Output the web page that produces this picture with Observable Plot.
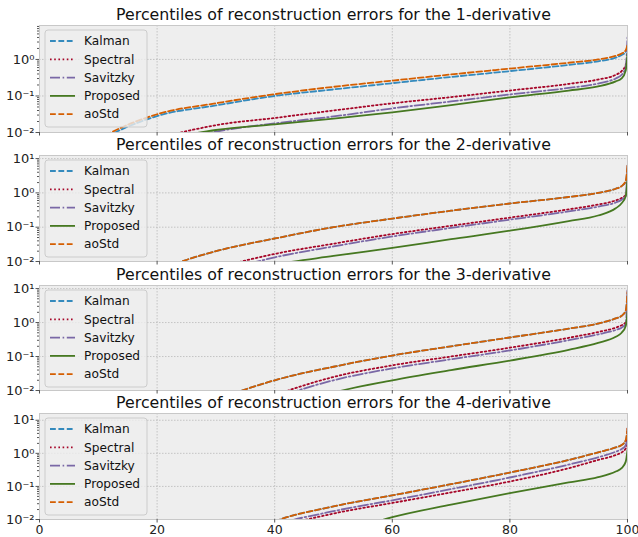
<!DOCTYPE html>
<html><head><meta charset="utf-8">
<script src="https://cdn.jsdelivr.net/npm/d3@7"></script>
<script src="https://cdn.jsdelivr.net/npm/@observablehq/plot@0.6"></script>
<style>
body{margin:0;background:#fff;font-family:"DejaVu Sans",sans-serif;}
#chart svg{display:block;}
</style></head><body><div id="chart"></div>
<script>
const percentiles = [0, 10, 20, 30, 40, 50, 60, 70, 80, 90, 95, 98, 99, 99.7, 100];
const methods = ["Kalman", "Spectral", "Savitzky", "Proposed", "aoStd"];
const titles = [
  "Percentiles of reconstruction errors for the 1-derivative",
  "Percentiles of reconstruction errors for the 2-derivative",
  "Percentiles of reconstruction errors for the 3-derivative",
  "Percentiles of reconstruction errors for the 4-derivative"
];
const xTicks = [0, 20, 40, 60, 80, 100];

// 1-derivative
const kalman1   = [0.00032, 0.0056, 0.0282, 0.055, 0.1, 0.151, 0.224, 0.331, 0.479, 0.708, 0.891, 1.12, 1.32, 1.58, 2.0];
const spectral1 = [0.0001, 0.001, 0.0063, 0.0158, 0.025, 0.04, 0.063, 0.093, 0.141, 0.214, 0.282, 0.38, 0.479, 0.708, 1.12];
const savitzky1 = [0.00003, 0.00063, 0.004, 0.0105, 0.0178, 0.0275, 0.0457, 0.0708, 0.11, 0.166, 0.219, 0.302, 0.38, 0.631, 3.98];
const proposed1 = [0.00003, 0.0005, 0.005, 0.0117, 0.0166, 0.024, 0.0355, 0.0562, 0.091, 0.141, 0.182, 0.251, 0.302, 0.5, 1.41];
const aoStd1    = [0.00032, 0.0063, 0.0316, 0.063, 0.112, 0.178, 0.263, 0.389, 0.562, 0.813, 1.0, 1.26, 1.45, 1.78, 2.51];
// 2-derivative
const kalman2   = [0.0001, 0.001, 0.0056, 0.02, 0.0468, 0.1, 0.178, 0.302, 0.49, 0.759, 1.0, 1.32, 1.58, 2.14, 5.0];
const spectral2 = [0.00001, 0.00016, 0.0016, 0.0063, 0.0166, 0.033, 0.063, 0.11, 0.19, 0.331, 0.457, 0.603, 0.708, 0.891, 1.26];
const savitzky2 = [0.00001, 0.0001, 0.001, 0.0045, 0.0132, 0.0275, 0.0537, 0.0955, 0.166, 0.288, 0.398, 0.525, 0.631, 0.832, 6.31];
const proposed2 = [0.00001, 0.0001, 0.00063, 0.0025, 0.0079, 0.0145, 0.025, 0.0447, 0.079, 0.151, 0.219, 0.355, 0.5, 0.794, 2.51];
const aoStd2    = [0.0001, 0.001, 0.0056, 0.02, 0.0468, 0.1, 0.178, 0.302, 0.49, 0.759, 1.0, 1.32, 1.58, 2.24, 6.31];
// 3-derivative
const kalman3   = [0.00001, 0.000063, 0.00063, 0.005, 0.02, 0.05, 0.107, 0.2, 0.363, 0.661, 0.933, 1.32, 1.58, 2.24, 6.31];
const spectral3 = [0.00001, 0.00003, 0.00025, 0.0013, 0.0072, 0.025, 0.055, 0.1, 0.182, 0.355, 0.525, 0.708, 0.832, 1.0, 1.26];
const savitzky3 = [0.00001, 0.000025, 0.0002, 0.001, 0.0058, 0.02, 0.0447, 0.083, 0.151, 0.302, 0.447, 0.603, 0.708, 0.891, 10];
const proposed3 = [0.000001, 0.00001, 0.00005, 0.00032, 0.0018, 0.0085, 0.02, 0.04, 0.076, 0.158, 0.251, 0.38, 0.5, 0.794, 2.0];
const aoStd3    = [0.00001, 0.000063, 0.00063, 0.005, 0.02, 0.05, 0.107, 0.2, 0.363, 0.661, 0.933, 1.32, 1.58, 2.24, 7.94];
// 4-derivative
const kalman4   = [0.000001, 0.00001, 0.0001, 0.001, 0.0087, 0.025, 0.0537, 0.117, 0.263, 0.631, 1.07, 1.51, 1.78, 2.4, 5.0];
const spectral4 = [0.000001, 0.00001, 0.00005, 0.0005, 0.005, 0.0151, 0.0316, 0.066, 0.141, 0.355, 0.631, 0.891, 1.07, 1.41, 5.62];
const savitzky4 = [0.000001, 0.00001, 0.000063, 0.00063, 0.0063, 0.0178, 0.038, 0.083, 0.186, 0.457, 0.759, 1.12, 1.35, 1.78, 2.51];
const proposed4 = [1e-7, 1e-6, 1e-5, 0.0001, 0.00063, 0.0032, 0.0117, 0.0282, 0.063, 0.132, 0.19, 0.282, 0.355, 0.562, 1.26];
const aoStd4    = [0.000001, 0.00001, 0.0001, 0.001, 0.0087, 0.025, 0.0537, 0.117, 0.263, 0.631, 1.07, 1.51, 1.78, 2.51, 5.62];

const seriesByPanel = [
  [kalman1, spectral1, savitzky1, proposed1, aoStd1],
  [kalman2, spectral2, savitzky2, proposed2, aoStd2],
  [kalman3, spectral3, savitzky3, proposed3, aoStd3],
  [kalman4, spectral4, savitzky4, proposed4, aoStd4]
];
const yMax = [8.5, 12.3, 12.3, 16];

// styles
const colors = ["#348ABD", "#A60628", "#7A68A6", "#467821", "#D55E00"];
const dashes = ["5.8,2.6", "1.6,2.6", "10,2.6,1.6,2.6", null, "5.8,2.6"];
const layout = [
  {height: 135, top: 25, bottom: 3},
  {height: 130, top: 20, bottom: 4},
  {height: 128, top: 20, bottom: 3},
  {height: 144, top: 20, bottom: 18}
];
const ML = 39, MR = 11, W = 638;

const sup = {"-": "\u207B", "0": "\u2070", "1": "\u00B9", "2": "\u00B2", "3": "\u00B3"};
const fmtPow = d => "10" + String(Math.round(Math.log10(d))).split("").map(c => sup[c]).join("");

const chart = document.getElementById("chart");

seriesByPanel.forEach((series, k) => {
  const L = layout[k];
  const data = [];
  methods.forEach((m, j) => series[j].forEach((v, i) => data.push({p: percentiles[i], v, m})));
  const decades = [0.01, 0.1, 1, 10].filter(d => d <= yMax[k]);
  const minor = [];
  for (const d of [0.01, 0.1, 1, 10]) for (let f = 2; f <= 9; f++) if (d * f <= yMax[k]) minor.push(d * f);
  const last = k === 3;
  const marks = [
    Plot.frame({fill: "#eeeeee"}),
    Plot.gridX({ticks: [20, 40, 60, 80], stroke: "#b2b2b2", strokeOpacity: 1, strokeWidth: 0.7, strokeDasharray: "1.5,1.5"}),
    Plot.gridY({ticks: decades, stroke: "#b2b2b2", strokeOpacity: 1, strokeWidth: 0.7, strokeDasharray: "1.5,1.5"}),
    ...methods.map((m, j) => Plot.line(data.filter(d => d.m === m), {
      x: "p", y: "v", stroke: colors[j], strokeWidth: 1.8,
      strokeDasharray: dashes[j], curve: "monotone-x", clip: true
    })),
    Plot.frame({stroke: "#c8c8c8"}),
    Plot.axisY({ticks: minor, tickSize: 2, tickFormat: () => "", label: null, stroke: "#555"}),
    Plot.axisY({ticks: decades, tickSize: 3.5, tickPadding: 1.5, tickFormat: fmtPow, label: null, fontSize: 13, stroke: "#555", fill: "#222"}),
    Plot.axisX({ticks: xTicks, tickSize: 3.5, tickPadding: 2, tickFormat: last ? (d => String(d)) : (() => ""), label: null, fontSize: 12.5, stroke: "#555", fill: "#222"}),
    Plot.text([titles[k]], {frameAnchor: "top", lineAnchor: "middle", dy: -11, fontSize: 15.8, fill: "#111"})
  ];
  const svg = Plot.plot({
    width: W, height: L.height,
    marginLeft: ML, marginRight: MR, marginTop: L.top, marginBottom: L.bottom,
    style: {fontFamily: "DejaVu Sans", fontSize: "12px", background: "white", overflow: "visible"},
    x: {domain: [0, 100]},
    y: {type: "log", domain: [0.01, yMax[k]]},
    marks
  });
  // legend
  const g = d3.select(svg).append("g").attr("font-family", "DejaVu Sans").attr("font-size", 12.2).attr("text-anchor", "start");
  g.append("rect").attr("x", ML + 6).attr("y", L.top + 5).attr("width", 102).attr("height", 97)
    .attr("rx", 3).attr("fill", "#eeeeee").attr("fill-opacity", 0.8).attr("stroke", "#cccccc");
  methods.forEach((m, i) => {
    const y = L.top + 16 + i * 18.3;
    g.append("line").attr("x1", ML + 11).attr("x2", ML + 36).attr("y1", y).attr("y2", y)
      .attr("stroke", colors[i]).attr("stroke-width", 1.8).attr("stroke-dasharray", dashes[i]);
    g.append("text").attr("x", ML + 45).attr("y", y).attr("dy", "0.35em").attr("fill", "#111").text(m);
  });
  chart.appendChild(svg);
});
</script></body></html>
